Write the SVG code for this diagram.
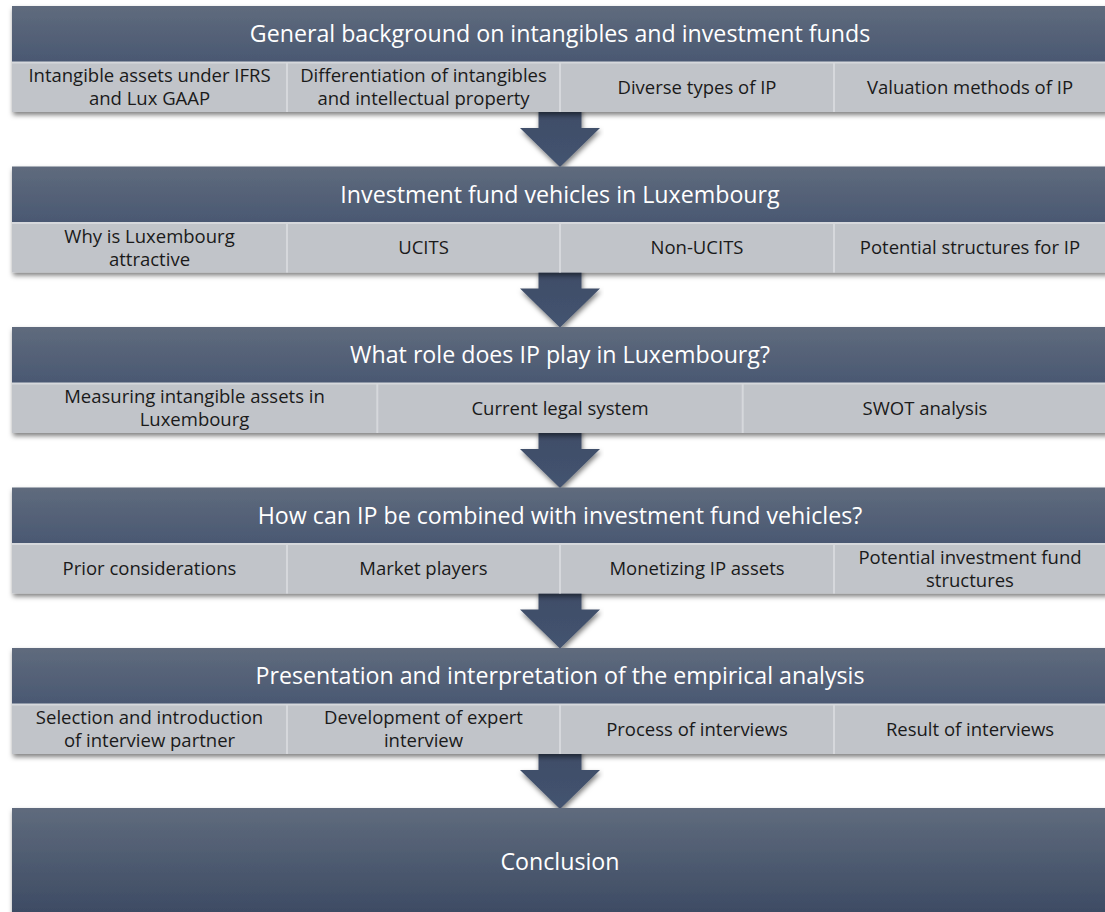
<svg xmlns="http://www.w3.org/2000/svg" width="1105" height="912" viewBox="0 0 1105 912">
<defs>
<linearGradient id="hdr" x1="0" y1="0" x2="0" y2="1">
<stop offset="0" stop-color="#5f6b7d"/>
<stop offset="1" stop-color="#4a5872"/>
</linearGradient>
<linearGradient id="conc" x1="0" y1="0" x2="0" y2="1">
<stop offset="0" stop-color="#5f6b7d"/>
<stop offset="1" stop-color="#3b4962"/>
</linearGradient>
<linearGradient id="arr" x1="0" y1="0" x2="0" y2="1">
<stop offset="0" stop-color="#3e4d67"/>
<stop offset="1" stop-color="#445370"/>
</linearGradient>
<filter id="sh" x="-5%" y="-20%" width="110%" height="150%">
<feDropShadow dx="1" dy="3" stdDeviation="2.5" flood-color="#000" flood-opacity="0.5"/>
</filter>
</defs>
<style>
.hdr{fill:url(#hdr)}
.sub{fill:#c1c4c9}
.div{stroke:#d6d8dc;stroke-width:2}
.arrow{fill:url(#arr)}
.ht{font-family:"Open Sans","Liberation Sans",sans-serif;font-size:23.2px;fill:#ffffff;text-anchor:middle}
.st{font-family:"Open Sans","Liberation Sans",sans-serif;font-size:18.5px;fill:#1a1a1a;text-anchor:middle}
</style>
<rect width="1105" height="912" fill="#ffffff"/>

<g id="connectors">
<path class="arrow" filter="url(#sh)" d="M538.5,108 H581.5 V128 H600 L560,167 L520,128 H538.5 Z"/>
<path class="arrow" filter="url(#sh)" d="M538.5,268.5 H581.5 V288.5 H600 L560,327.5 L520,288.5 H538.5 Z"/>
<path class="arrow" filter="url(#sh)" d="M538.5,429 H581.5 V449 H600 L560,488 L520,449 H538.5 Z"/>
<path class="arrow" filter="url(#sh)" d="M538.5,589.5 H581.5 V609.5 H600 L560,648.5 L520,609.5 H538.5 Z"/>
<path class="arrow" filter="url(#sh)" d="M538.5,750 H581.5 V770 H600 L560,809 L520,770 H538.5 Z"/>
</g>

<g id="block1">
<g filter="url(#sh)">
<rect class="hdr" x="12" y="6" width="1096" height="56"/>
<rect class="sub" x="12" y="62" width="1096" height="50"/>
</g>
<line class="div" x1="12" y1="62.5" x2="1108" y2="62.5" stroke-width="1"/>
<line class="div" x1="287" y1="63" x2="287" y2="112"/>
<line class="div" x1="560" y1="63" x2="560" y2="112"/>
<line class="div" x1="834" y1="63" x2="834" y2="112"/>
<text class="ht" x="560" y="42">General background on intangibles and investment funds</text>
<text class="st" x="149.5" y="82">Intangible assets under IFRS</text>
<text class="st" x="149.5" y="105">and Lux GAAP</text>
<text class="st" x="423.5" y="82">Differentiation of intangibles</text>
<text class="st" x="423.5" y="105">and intellectual property</text>
<text class="st" x="697" y="93.5">Diverse types of IP</text>
<text class="st" x="970" y="93.5">Valuation methods of IP</text>
</g>

<g id="block2">
<g filter="url(#sh)">
<rect class="hdr" x="12" y="166.5" width="1096" height="56"/>
<rect class="sub" x="12" y="222.5" width="1096" height="50"/>
</g>
<line class="div" x1="12" y1="223" x2="1108" y2="223" stroke-width="1"/>
<line class="div" x1="287" y1="223.5" x2="287" y2="272.5"/>
<line class="div" x1="560" y1="223.5" x2="560" y2="272.5"/>
<line class="div" x1="834" y1="223.5" x2="834" y2="272.5"/>
<text class="ht" x="560" y="202.5">Investment fund vehicles in Luxembourg</text>
<text class="st" x="149.5" y="242.5">Why is Luxembourg</text>
<text class="st" x="149.5" y="265.5">attractive</text>
<text class="st" x="423.5" y="254">UCITS</text>
<text class="st" x="697" y="254">Non-UCITS</text>
<text class="st" x="970" y="254">Potential structures for IP</text>
</g>

<g id="block3">
<g filter="url(#sh)">
<rect class="hdr" x="12" y="327" width="1096" height="56"/>
<rect class="sub" x="12" y="383" width="1096" height="50"/>
</g>
<line class="div" x1="12" y1="383.5" x2="1108" y2="383.5" stroke-width="1"/>
<line class="div" x1="377.3" y1="384" x2="377.3" y2="433"/>
<line class="div" x1="742.7" y1="384" x2="742.7" y2="433"/>
<text class="ht" x="560" y="363">What role does IP play in Luxembourg?</text>
<text class="st" x="194.5" y="403">Measuring intangible assets in</text>
<text class="st" x="194.5" y="426">Luxembourg</text>
<text class="st" x="560" y="414.5">Current legal system</text>
<text class="st" x="925" y="414.5">SWOT analysis</text>
</g>

<g id="block4">
<g filter="url(#sh)">
<rect class="hdr" x="12" y="487.5" width="1096" height="56"/>
<rect class="sub" x="12" y="543.5" width="1096" height="50"/>
</g>
<line class="div" x1="12" y1="544" x2="1108" y2="544" stroke-width="1"/>
<line class="div" x1="287" y1="544.5" x2="287" y2="593.5"/>
<line class="div" x1="560" y1="544.5" x2="560" y2="593.5"/>
<line class="div" x1="834" y1="544.5" x2="834" y2="593.5"/>
<text class="ht" x="560" y="523.5">How can IP be combined with investment fund vehicles?</text>
<text class="st" x="149.5" y="575">Prior considerations</text>
<text class="st" x="423.5" y="575">Market players</text>
<text class="st" x="697" y="575">Monetizing IP assets</text>
<text class="st" x="970" y="563.5">Potential investment fund</text>
<text class="st" x="970" y="586.5">structures</text>
</g>

<g id="block5">
<g filter="url(#sh)">
<rect class="hdr" x="12" y="648" width="1096" height="56"/>
<rect class="sub" x="12" y="704" width="1096" height="50"/>
</g>
<line class="div" x1="12" y1="704.5" x2="1108" y2="704.5" stroke-width="1"/>
<line class="div" x1="287" y1="705" x2="287" y2="754"/>
<line class="div" x1="560" y1="705" x2="560" y2="754"/>
<line class="div" x1="834" y1="705" x2="834" y2="754"/>
<text class="ht" x="560" y="684">Presentation and interpretation of the empirical analysis</text>
<text class="st" x="149.5" y="724">Selection and introduction</text>
<text class="st" x="149.5" y="747">of interview partner</text>
<text class="st" x="423.5" y="724">Development of expert</text>
<text class="st" x="423.5" y="747">interview</text>
<text class="st" x="697" y="735.5">Process of interviews</text>
<text class="st" x="970" y="735.5">Result of interviews</text>
</g>

<g id="conclusion">
<rect x="12" y="808" width="1096" height="112" fill="url(#conc)" filter="url(#sh)"/>
<text class="ht" x="560" y="870">Conclusion</text>
</g>
</svg>
